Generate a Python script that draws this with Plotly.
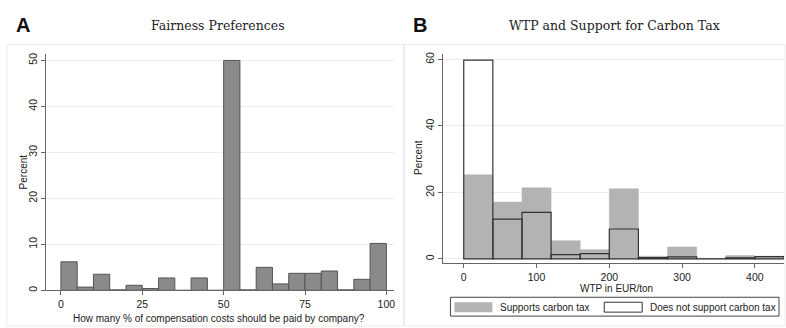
import plotly.graph_objects as go

W, H = 786, 328

# ---------- Data ----------
# Panel A: fairness preferences, 5-point bins starting at these left edges
fair_bin_left = [0, 5, 10, 15, 20, 25, 30, 35, 40, 45, 50, 55, 60, 65, 70, 75, 80, 85, 90, 95]
fair_percent = [6.2, 0.7, 3.5, 0.1, 1.1, 0.4, 2.7, 0.0, 2.7, 0.0, 50.0, 0.1,
                5.0, 1.4, 3.7, 3.7, 4.2, 0.1, 2.4, 10.2]
fair_bin_width = 5
fair_xticks = [0, 25, 50, 75, 100]
fair_yticks = [0, 10, 20, 30, 40, 50]

# Panel B: WTP in EUR/ton, 40-point bins
wtp_bin_left = [0, 40, 80, 120, 160, 200, 240, 280, 320, 360, 400]
wtp_supports = [25.3, 17.1, 21.4, 5.5, 2.8, 21.1, 0.8, 3.6, 0.2, 1.0, 0.8]
wtp_not_supports = [59.8, 12.0, 14.0, 1.3, 1.6, 9.0, 0.4, 0.6, 0.0, 0.3, 0.7]
wtp_bin_width = 40
wtp_xticks = [0, 100, 200, 300, 400]
wtp_yticks = [0, 20, 40, 60]

# ---------- Helpers ----------
def px_x(p):
    return p / W

def px_y(p):
    return (H - p) / H

SANS = "Liberation Sans, Arial, sans-serif"
SERIF = "DejaVu Serif, Liberation Serif, serif"
TXT = "#222222"

fig = go.Figure()

fig.add_trace(go.Bar(
    x=fair_bin_left, y=fair_percent, width=fair_bin_width, offset=0,
    marker=dict(color="#8a8a8a", line=dict(color="#555555", width=1)),
    xaxis="x", yaxis="y", showlegend=False, name="Fairness"))

fig.add_trace(go.Bar(
    x=wtp_bin_left, y=wtp_supports, width=wtp_bin_width, offset=0,
    marker=dict(color="#b3b3b3", line=dict(color="#b3b3b3", width=0.5)),
    xaxis="x2", yaxis="y2", showlegend=False, name="Supports carbon tax"))

fig.add_trace(go.Bar(
    x=wtp_bin_left, y=wtp_not_supports, width=wtp_bin_width, offset=0,
    marker=dict(color="rgba(0,0,0,0)", line=dict(color="#333333", width=1.2)),
    xaxis="x2", yaxis="y2", showlegend=False, name="Does not support carbon tax"))

axis_common = dict(showline=True, linecolor="#666666", linewidth=1, ticks="outside",
                   tickcolor="#666666", ticklen=4, zeroline=False,
                   tickfont=dict(family=SANS, size=10.5, color=TXT))

fig.update_layout(
    width=W, height=H, margin=dict(l=0, r=0, t=0, b=0),
    paper_bgcolor="white", plot_bgcolor="white", barmode="overlay",
    xaxis=dict(domain=[px_x(46), px_x(395)], range=[-4.6, 102.5], anchor="y",
               tickvals=fair_xticks, showgrid=False,
               **axis_common),
    yaxis=dict(domain=[px_y(291), px_y(52)], range=[0, 51.5], anchor="x",
               tickvals=fair_yticks, tickangle=-90, showgrid=True, gridcolor="#ececec",
               **axis_common),
    xaxis2=dict(domain=[px_x(444), px_x(785)], range=[-27.9, 440], anchor="y2",
                tickvals=wtp_xticks, showgrid=False, ticklabelstandoff=1,
                **axis_common),
    yaxis2=dict(domain=[px_y(263), px_y(52)], range=[-1.1, 61.8], anchor="x2",
                tickvals=wtp_yticks, tickangle=-90, showgrid=True, gridcolor="#ececec",
                **axis_common),
)

shapes = [
    # panel frames
    dict(type="rect", xref="paper", yref="paper", x0=px_x(7), x1=px_x(404),
         y0=px_y(327), y1=px_y(43), line=dict(color="#ececec", width=1)),
    dict(type="rect", xref="paper", yref="paper", x0=px_x(405), x1=px_x(786),
         y0=px_y(327), y1=px_y(43), line=dict(color="#ececec", width=1)),
    # legend box
    dict(type="rect", xref="paper", yref="paper", x0=px_x(451), x1=px_x(780),
         y0=px_y(317), y1=px_y(298), line=dict(color="#444444", width=1)),
    dict(type="rect", xref="paper", yref="paper", x0=px_x(455), x1=px_x(493),
         y0=px_y(313), y1=px_y(303), fillcolor="#b3b3b3", line=dict(width=0)),
    dict(type="rect", xref="paper", yref="paper", x0=px_x(605), x1=px_x(643),
         y0=px_y(313), y1=px_y(303), fillcolor="white", line=dict(color="#333333", width=1)),
]

def note(text, x, y, size, family=SANS, xanchor="center", angle=0, color=TXT):
    return dict(text=text, x=px_x(x), y=px_y(y), xref="paper", yref="paper",
                xanchor=xanchor, yanchor="middle", showarrow=False, textangle=angle,
                font=dict(family=family, size=size, color=color))

annotations = [
    note("<b>A</b>", 14, 23, 20, xanchor="left", color="#111111"),
    note("<b>B</b>", 412, 23, 20, xanchor="left", color="#111111"),
    note("Fairness Preferences", 218, 24, 12.5, family=SERIF),
    note("WTP and Support for Carbon Tax", 615, 24, 12.5, family=SERIF),
    # axis titles
    note("How many % of compensation costs should be paid by company?", 219, 319, 10),
    note("Percent", 23, 171, 10, angle=-90),
    note("WTP in EUR/ton", 617, 289, 10),
    note("Percent", 419, 157, 10, angle=-90),
    # legend labels
    note("Supports carbon tax", 499, 308, 10, xanchor="left"),
    note("Does not support carbon tax", 649, 308, 10, xanchor="left"),
]

fig.update_layout(shapes=shapes, annotations=annotations)

fig.write_html("out.html", config={"displayModeBar": False},
               post_script="document.body.style.margin='0';document.body.style.overflow='hidden';")
